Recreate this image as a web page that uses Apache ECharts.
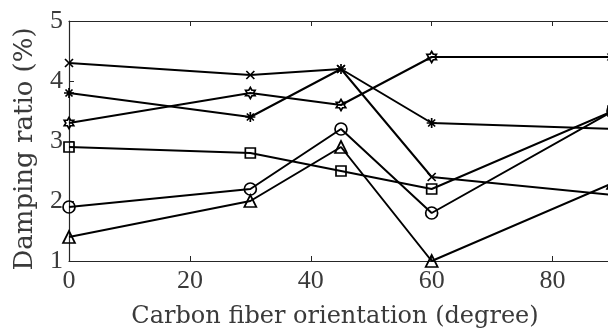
<!DOCTYPE html>
<html><head><meta charset="utf-8">
<script src="https://cdn.jsdelivr.net/npm/echarts@6/dist/echarts.min.js"></script>
<style>html,body{margin:0;padding:0;background:#fff}#c{width:608px;height:336px}</style>
</head><body><div id="c"></div>
<script>
const xValues = [0, 30, 45, 60, 90];
const crossSeries = [4.3, 4.1, 4.2, 2.4, 2.1];
const asteriskSeries = [3.8, 3.4, 4.2, 3.3, 3.2];
const hexagramSeries = [3.3, 3.8, 3.6, 4.4, 4.4];
const squareSeries = [2.9, 2.8, 2.5, 2.2, 3.5];
const circleSeries = [1.9, 2.2, 3.2, 1.8, 3.5];
const triangleSeries = [1.4, 2.0, 2.9, 1.0, 2.3];
const xTicks = [0, 20, 40, 60, 80];
const yTicks = [1, 2, 3, 4, 5];

const FONT = 'Liberation Serif';
const TFONT = 'DejaVu Serif';
const TXT = '#3a3a3a';
const AX = '#262626';

const symbols = {
  cross: 'path://M-1 -1 L1 1 M-1 1 L1 -1',
  asterisk: 'path://M0 -1 L0 1 M-1 0 L1 0 M-0.7 -0.7 L0.7 0.7 M-0.7 0.7 L0.7 -0.7',
  hexagram: 'path://M0 -1 L0.289 -0.5 L0.866 -0.5 L0.577 0 L0.866 0.5 L0.289 0.5 L0 1 L-0.289 0.5 L-0.866 0.5 L-0.577 0 L-0.866 -0.5 L-0.289 -0.5 Z',
  square: 'rect', circle: 'circle', triangle: 'triangle'
};
function mk(vals, sym, size) {
  return {
    type: 'line', data: xValues.map((x, i) => [x, vals[i]]),
    symbol: symbols[sym], symbolSize: size, symbolKeepAspect: true,
    showAllSymbol: true, clip: false, animation: false,
    lineStyle: { color: '#000', width: 2 },
    itemStyle: { color: 'rgba(0,0,0,0)', borderColor: '#000', borderWidth: 1.7 },
    emphasis: { disabled: true }
  };
}
const chart = echarts.init(document.getElementById('c'), null, { renderer: 'canvas' });
chart.setOption({
  animation: false,
  grid: { left: 69, top: 21, right: -5, bottom: 75, outerBoundsMode: 'none', containLabel: false },
  xAxis: [{
    type: 'value', min: 0, max: 90, interval: 20,
    name: 'Carbon fiber orientation (degree)', nameLocation: 'middle', nameGap: 44,
    nameTextStyle: { fontFamily: TFONT, fontSize: 24, color: TXT, padding: [0, 12, 0, 0] },
    axisLine: { onZero: false, lineStyle: { color: AX, width: 1.2 } },
    axisTick: { inside: true, length: 5, lineStyle: { color: AX } },
    axisLabel: { fontFamily: FONT, fontSize: 26, color: TXT, margin: 7, showMaxLabel: false,
      formatter: v => xTicks.includes(v) ? String(v) : '' },
    splitLine: { show: false }
  }, {
    type: 'value', position: 'top', min: 0, max: 90, interval: 20,
    axisLine: { show: true, onZero: false, lineStyle: { color: AX, width: 1.2 } },
    axisTick: { inside: true, length: 5, lineStyle: { color: AX } },
    axisLabel: { show: false }, splitLine: { show: false }
  }],
  yAxis: {
    type: 'value', min: 1, max: 5, interval: 1,
    name: 'Damping ratio (%)', nameLocation: 'middle', nameGap: 31, nameRotate: 90,
    nameTextStyle: { fontFamily: TFONT, fontSize: 26, color: TXT, padding: [0, 16, 0, 0] },
    axisLine: { show: true, onZero: false, lineStyle: { color: AX, width: 1.2 } },
    axisTick: { show: true, inside: true, length: 5, lineStyle: { color: AX } },
    axisLabel: { fontFamily: FONT, fontSize: 26, color: TXT, margin: 6,
      formatter: v => yTicks.includes(v) ? String(v) : '' },
    splitLine: { show: false }
  },
  series: [
    mk(crossSeries, 'cross', 8),
    mk(asteriskSeries, 'asterisk', 10),
    mk(hexagramSeries, 'hexagram', 11),
    mk(squareSeries, 'square', 10),
    mk(circleSeries, 'circle', 12),
    mk(triangleSeries, 'triangle', 12)
  ]
});
</script></body></html>
